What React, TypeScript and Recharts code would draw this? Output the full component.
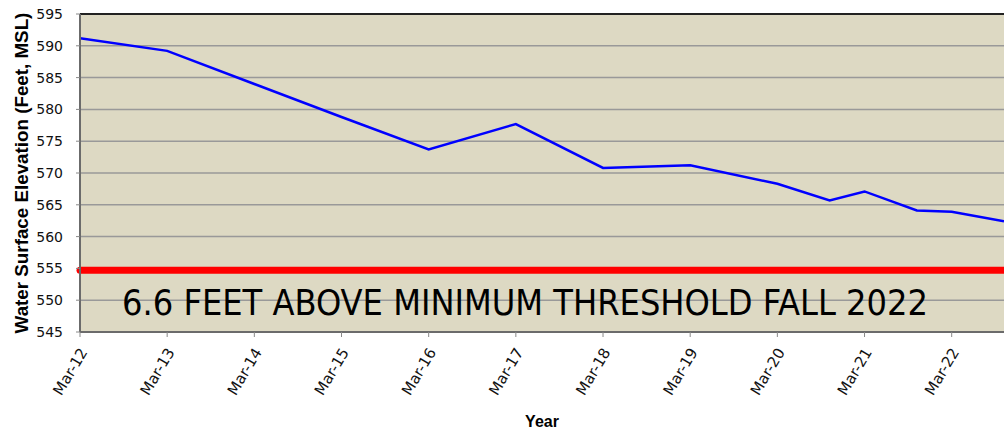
import React from 'react'
import {
  LineChart,
  Line,
  XAxis,
  YAxis,
  CartesianGrid,
  ReferenceLine,
} from 'recharts'

// years since Mar-2012
const yearOffsets = [0, 1, 2, 3, 4, 5, 6, 7, 8, 8.6, 9, 9.6, 10, 10.6]
const elevations = [591.2, 589.2, 584.0, 578.8, 573.7, 577.7, 570.8, 571.2, 568.3, 565.7, 567.1, 564.1, 563.9, 562.4]

const xTicks = [0, 1, 2, 3, 4, 5, 6, 7, 8, 9, 10]
const xLabels = ['Mar-12', 'Mar-13', 'Mar-14', 'Mar-15', 'Mar-16', 'Mar-17', 'Mar-18', 'Mar-19', 'Mar-20', 'Mar-21', 'Mar-22']
const yTicks = [545, 550, 555, 560, 565, 570, 575, 580, 585, 590, 595]

const THRESHOLD = 554.7
const NOTE = '6.6 FEET ABOVE MINIMUM THRESHOLD FALL 2022'

const data = yearOffsets.map((t, i) => ({ t, elev: elevations[i] }))

const FONT = '"DejaVu Sans", Tahoma, sans-serif'
const BOLD = '"Liberation Sans", Arial, sans-serif'

function XTick({ x, y, payload }: { x?: number; y?: number; payload?: { value: number } }) {
  const label = xLabels[xTicks.indexOf(payload?.value ?? -1)] ?? ''
  const px = (x ?? 0) + 8
  const py = (y ?? 0) + 13
  return (
    <text
      x={px}
      y={py}
      textAnchor="end"
      fontSize={15}
      fontFamily={FONT}
      fill="#111"
      transform={`rotate(-59 ${px} ${py})`}
    >
      {label}
    </text>
  )
}

// big annotation under the red line
function NoteLabel({ viewBox }: { viewBox?: { x: number; y: number; width: number } }) {
  if (!viewBox) return null
  return (
    <text
      x={viewBox.x + viewBox.width / 2 - 17}
      y={viewBox.y + 45}
      textAnchor="middle"
      fontSize={36}
      fontFamily='"DejaVu Sans Condensed", "DejaVu Sans", sans-serif'
      fill="#000"
      textLength={806}
      lengthAdjust="spacingAndGlyphs"
    >
      {NOTE}
    </text>
  )
}

export default function App() {
  return (
    <div style={{ width: 1004, height: 429, background: '#fff' }}>
      <style>{`body{margin:0}`}</style>
      <LineChart
        width={1004}
        height={429}
        data={data}
        margin={{ top: 14, right: 0, left: 0, bottom: 2 }}
      >
        <CartesianGrid
          vertical={false}
          stroke="#999"
          strokeWidth={1.5}
          fill="#DDD9C3"
          fillOpacity={1}
        />
        <XAxis
          dataKey="t"
          type="number"
          domain={[0, 10.6]}
          ticks={xTicks}
          allowDataOverflow
          height={95}
          tick={<XTick />}
          tickSize={5}
          tickLine={{ stroke: '#888' }}
          axisLine={{ stroke: '#6b6b6b', strokeWidth: 2 }}
          label={{
            value: 'Year',
            position: 'insideBottom',
            offset: 0,
            fontFamily: BOLD,
            fontWeight: 700,
            fontSize: 16,
            fill: '#000',
          }}
        />
        <YAxis
          type="number"
          domain={[545, 595]}
          ticks={yTicks}
          width={80}
          tickSize={4}
          tickMargin={13}
          tickLine={{ stroke: '#888' }}
          axisLine={{ stroke: '#6b6b6b', strokeWidth: 2 }}
          tick={{ fontSize: 14, fontFamily: FONT, fill: '#111' }}
          label={{
            value: 'Water Surface Elevation (Feet, MSL)',
            angle: -90,
            position: 'insideLeft',
            offset: 21,
            textAnchor: 'middle',
            fontFamily: BOLD,
            fontWeight: 700,
            fontSize: 18.8,
            fill: '#000',
            style: { textAnchor: 'middle' },
          }}
        />
        <ReferenceLine y={595} stroke="#222" strokeWidth={2} />
        <ReferenceLine
          y={THRESHOLD}
          stroke="#ff0000"
          strokeWidth={7}
          strokeLinecap="round"
          ifOverflow="visible"
          label={<NoteLabel />}
        />
        <Line
          type="linear"
          dataKey="elev"
          stroke="#0000ff"
          strokeWidth={2.5}
          dot={false}
          isAnimationActive={false}
        />
      </LineChart>
    </div>
  )
}
